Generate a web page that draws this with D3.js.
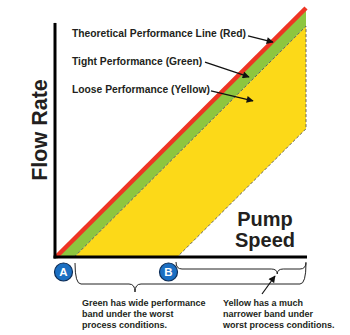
<!DOCTYPE html>
<html><head><meta charset="utf-8">
<script src="https://cdn.jsdelivr.net/npm/d3@7"></script>
<style>
html,body{margin:0;padding:0;background:#fff;}
svg{display:block;font-family:"Liberation Sans",Arial,Helvetica,sans-serif;}
</style></head>
<body>
<script>
// ---- data (pump speed % vs flow rate %) ----
const theoretical = [[0,0],[100,100]];
const tightOffset = 7.3;      // green band width
const looseOffset = 48.5;     // yellow band lower edge offset
const markers = [{label:"A", x:3}, {label:"B", x:45}];
const braces = [
  {from:7.6, to:100, tip:31.6, drop:"big"},
  {from:48, to:100, tip:88.5, drop:"small"}
];
const annotations = [
  {text:"Theoretical Performance Line (Red)", tx:6.4, ty:88.3, sx:76.8, sy:88.8, ex:86.8, ey:86.3},
  {text:"Tight Performance (Green)", tx:6.4, ty:77.1, sx:59.6, sy:78.3, ex:77.2, ey:72.3},
  {text:"Loose Performance (Yellow)", tx:6.4, ty:65.9, sx:62.0, sy:66.7, ex:78.8, ey:62.7}
];
const bottomNotes = [
  {x:10.4, lines:["Green has wide performance","band under the worst","process conditions."]},
  {x:66.8, lines:["Yellow has a much","narrower band under","worst process conditions."]}
];
const notePointer = {sx:82.4, ex:87.6};
const axisTitles = {x:["Pump","Speed"], y:"Flow Rate"};

// ---- drawing ----
const W=350,H=335;
const svg=d3.select("body").append("svg").attr("width",W).attr("height",H);
const x=d3.scaleLinear().domain([0,100]).range([56,306]);
const y=d3.scaleLinear().domain([0,100]).range([257,8]);
const line=d3.line().x(d=>x(d[0])).y(d=>y(d[1]));

const red="#ee3524", green="#8dc63f", yellow="#fcd918", ink="#231f20";

// polygons
const greenPoly=[[0,0],[100,100],[100,100-tightOffset],[tightOffset,0]];
const yellowPoly=[[tightOffset,0],[100,100-tightOffset],[100,100-looseOffset],[looseOffset,0]];
svg.append("path").attr("d",line(yellowPoly)+"Z").attr("fill",yellow);
svg.append("path").attr("d",line(greenPoly)+"Z").attr("fill",green);
// dashed outline of yellow
svg.append("path").attr("d",line(yellowPoly)+"Z").attr("fill","none")
  .attr("stroke","#5a5a5a").attr("stroke-width",0.9).attr("stroke-dasharray","3,2");
// red theoretical line
svg.append("path").attr("d",line(theoretical)).attr("stroke",red).attr("stroke-width",4.5).attr("fill","none");

// axes
svg.append("line").attr("x1",x(0)-1).attr("x2",x(0)-1).attr("y1",y(94)).attr("y2",y(0)+1.5)
  .attr("stroke","#000").attr("stroke-width",3);
svg.append("line").attr("x1",x(0)-2.5).attr("x2",x(100)+1).attr("y1",y(0)).attr("y2",y(0))
  .attr("stroke","#000").attr("stroke-width",3);

// axis titles
svg.append("text").attr("transform",`translate(47,${y(51)}) rotate(-90)`)
  .attr("text-anchor","middle").attr("font-weight","bold").attr("font-size",21.5).attr("fill",ink)
  .text(axisTitles.y);
svg.selectAll("text.xt").data(axisTitles.x).join("text").attr("class","xt")
  .attr("x",x(83.6)).attr("y",(d,i)=>226+i*21).attr("text-anchor","middle")
  .attr("font-weight","bold").attr("font-size",20).attr("fill",ink).text(d=>d);

// arrow marker
const defs=svg.append("defs");
defs.append("marker").attr("id","ah").attr("viewBox","0 0 10 10").attr("refX",9).attr("refY",5)
  .attr("markerWidth",8).attr("markerHeight",7).attr("markerUnits","userSpaceOnUse").attr("orient","auto")
  .append("path").attr("d","M0,0 L10,5 L0,10 Z").attr("fill","#111");

// annotations
annotations.forEach(a=>{
  svg.append("text").attr("x",x(a.tx)).attr("y",y(a.ty)).attr("font-weight","bold")
    .attr("font-size",10.3).attr("fill",ink).text(a.text);
  svg.append("line").attr("x1",x(a.sx)).attr("y1",y(a.sy)).attr("x2",x(a.ex)).attr("y2",y(a.ey))
    .attr("stroke","#111").attr("stroke-width",1.3).attr("marker-end","url(#ah)");
});

// braces
function brace(x1,x2,xt,y0,y1,y2){
  const q=6;
  return `M${x1},${y0} Q${x1},${y1} ${x1+q},${y1} L${xt-q},${y1} Q${xt},${y1} ${xt},${y2} Q${xt},${y1} ${xt+q},${y1} L${x2-q},${y1} Q${x2},${y1} ${x2},${y0}`;
}
braces.forEach(b=>{
  const big=b.drop==="big";
  svg.append("path").attr("d",brace(x(b.from),x(b.to),x(b.tip),big?263:262,big?284:269,big?292:274))
    .attr("fill","none").attr("stroke","#222").attr("stroke-width",1);
});

// markers A / B
const mg=svg.selectAll("g.mk").data(markers).join("g").attr("class","mk")
  .attr("transform",d=>`translate(${x(d.x)},${y(0)+15})`);
mg.append("circle").attr("r",9).attr("fill","#1b6fc2").attr("stroke","#0d2d57").attr("stroke-width",1.2);
mg.append("text").attr("text-anchor","middle").attr("dy","0.36em").attr("font-weight","bold")
  .attr("font-size",11.5).attr("fill","#fff").text(d=>d.label);

// bottom notes
bottomNotes.forEach(n=>{
  svg.append("g").selectAll("text").data(n.lines).join("text")
    .attr("x",x(n.x)).attr("y",(d,i)=>306+i*11).attr("font-weight","bold")
    .attr("font-size",9).attr("fill",ink).text(d=>d);
});
svg.append("line").attr("x1",x(notePointer.sx)).attr("y1",294).attr("x2",x(notePointer.ex)).attr("y2",276)
  .attr("stroke","#111").attr("stroke-width",1.2).attr("marker-end","url(#ah)");
</script>
</body></html>
